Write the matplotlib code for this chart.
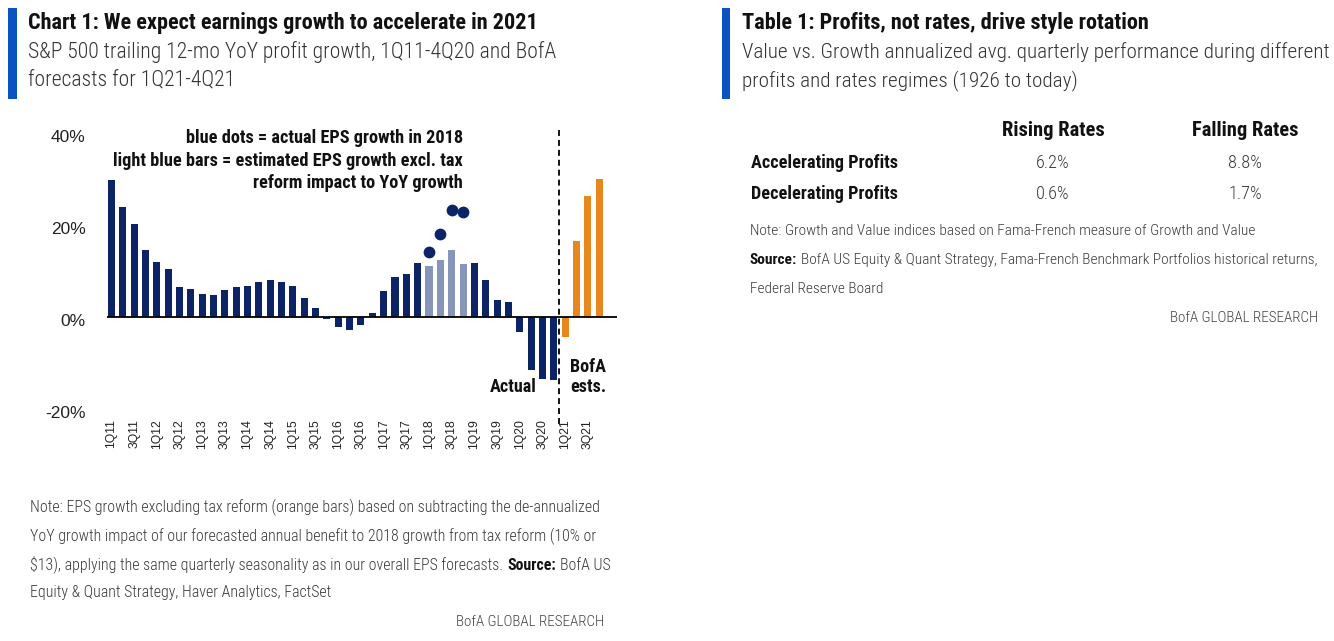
import matplotlib
matplotlib.use("Agg")
import matplotlib.pyplot as plt
import numpy as np
from matplotlib.patches import Rectangle
from matplotlib.transforms import ScaledTranslation

W, H = 1334, 641

# --- data ---
quarters = ["1Q11", "2Q11", "3Q11", "4Q11", "1Q12", "2Q12", "3Q12", "4Q12",
            "1Q13", "2Q13", "3Q13", "4Q13", "1Q14", "2Q14", "3Q14", "4Q14",
            "1Q15", "2Q15", "3Q15", "4Q15", "1Q16", "2Q16", "3Q16", "4Q16",
            "1Q17", "2Q17", "3Q17", "4Q17", "1Q18", "2Q18", "3Q18", "4Q18",
            "1Q19", "2Q19", "3Q19", "4Q19", "1Q20", "2Q20", "3Q20", "4Q20",
            "1Q21", "2Q21", "3Q21", "4Q21"]
# actual trailing 12m EPS growth, 1Q11-4Q20 (2018 = ex tax reform estimate)
actual_growth = [29.8, 23.8, 20.3, 14.5, 12.0, 10.5, 6.4, 6.0,
                 4.9, 4.7, 5.9, 6.4, 6.6, 7.5, 8.1, 7.6,
                 6.6, 4.1, 1.9, -0.4, -2.3, -2.8, -1.7, 0.7,
                 5.5, 8.6, 9.3, 11.6, 11.1, 12.3, 14.5, 11.5,
                 11.8, 8.1, 3.7, 3.1, -3.4, -11.7, -13.5, -13.7]
ex_tax_quarters = ["1Q18", "2Q18", "3Q18", "4Q18"]
eps_2018_actual = [14.1, 18.0, 23.2, 22.8]
forecast_quarters = ["1Q21", "2Q21", "3Q21", "4Q21"]
forecast_growth = [-4.4, 16.5, 26.2, 30.1]

table_cols = ["Rising Rates", "Falling Rates"]
table_rows = ["Accelerating Profits", "Decelerating Profits"]
table_vals = [["6.2%", "8.8%"], ["0.6%", "1.7%"]]

NAVY = "#0c2466"
LIGHT = "#8796b8"
ORANGE = "#e8871e"
ACCENT = "#0b53c1"

NARROW = ["Roboto Condensed", "Lato", "DejaVu Sans"]
ARIAL = ["Liberation Sans", "DejaVu Sans"]

fig = plt.figure(figsize=(W / 100, H / 100), dpi=100)
rend = fig.canvas.get_renderer()


def put(x, y, s, **kw):
    kw.setdefault("family", NARROW)
    kw.setdefault("va", "center")
    return fig.text(x / W, 1 - y / H, s, **kw)


def fit(s, target, size=14, **kw):
    # font size that makes s about target pixels wide
    kw.setdefault("family", NARROW)
    t = fig.text(0, 0, s, fontsize=size, **kw)
    w = t.get_window_extent(rend).width
    t.remove()
    return size * target / w


sub_l1 = "S&P 500 trailing 12-mo YoY profit growth, 1Q11-4Q20 and BofA"
sub_r1 = ("Value vs. Growth annualized avg. quarterly performance during "
          "different")
src_r = ("BofA US Equity & Quant Strategy, Fama-French Benchmark "
         "Portfolios historical returns,")

# ---------- sizes fitted to the reference widths ----------
fs_title = fit("Chart 1: We expect earnings growth to accelerate in 2021", 512,
               weight="bold")
fs_sub = fit(sub_l1, 529, weight="light")
fs_sub_r = fit(sub_r1, 588, weight="light")
fs_note = fit("Note: EPS growth excluding tax reform (orange bars) based on "
              "subtracting the de-annualized", 568, weight="light")
fs_note_r = fit("Source: " + src_r, 566, weight="light")
fs_ann = fit("blue dots = actual EPS growth in 2018", 279, weight="bold")
fs_act = fit("Actual", 47, weight="bold")
fs_head = fit("Rising Rates", 103, weight="bold")
fs_row = fit("Accelerating Profits", 148, weight="bold")
fs_small = fit("BofA GLOBAL RESEARCH", 150, weight="light")

# ---------- accent bars ----------
fig.add_artist(Rectangle((8 / W, 1 - 99 / H), 9 / W, 91 / H,
                         transform=fig.transFigure, color=ACCENT, lw=0))
fig.add_artist(Rectangle((722 / W, 1 - 99 / H), 8 / W, 91 / H,
                         transform=fig.transFigure, color=ACCENT, lw=0))

# ---------- left panel: chart ----------
put(28, 23, "Chart 1: We expect earnings growth to accelerate in 2021",
    fontsize=fs_title, weight="bold", color="#111111")
put(28, 52, sub_l1, fontsize=fs_sub, weight="light", color="#333333")
put(28, 81, "forecasts for 1Q21-4Q21", fontsize=fs_sub, weight="light",
    color="#333333")

ax = fig.add_axes([106.7 / W, 1 - 408.5 / H, 510 / W, 275.4 / H])
x_all = np.arange(len(quarters))
x_act = x_all[:len(actual_growth)]
act_colors = [LIGHT if q in ex_tax_quarters else NAVY
              for q in quarters[:len(actual_growth)]]
ax.bar(x_act, actual_growth, width=0.62, color=act_colors)
x_fc = [quarters.index(q) for q in forecast_quarters]
ax.bar(x_fc, forecast_growth, width=0.62, color=ORANGE)
x_dot = [quarters.index(q) for q in ex_tax_quarters]
ax.scatter(x_dot, eps_2018_actual, s=72, color=NAVY, zorder=3, lw=0)

ax.axhline(0, color="black", lw=1.3, zorder=2)
split = len(actual_growth) - 0.5
ax.plot([split, split], [40.7, -23.5], color="black", lw=1.3,
        dashes=(3.3, 2.2), clip_on=False)

ax.set_xlim(-0.42, 44.55)
ax.set_ylim(-20, 40)
for sp in ax.spines.values():
    sp.set_visible(False)
ax.set_yticks([-20, 0, 20, 40])
ax.set_yticklabels(["-20%", "0%", "20%", "40%"], family=ARIAL,
                   fontsize=12.5, color="#222222")
ax.set_xticks(x_all[::2])
ax.set_xticklabels(quarters[::2], rotation=90, family=ARIAL, fontsize=8.7,
                   color="#222222")
ax.tick_params(axis="y", length=0, pad=15)
ax.tick_params(axis="x", length=0, pad=8)
for lbl in ax.get_yticklabels():
    lbl.set_transform(lbl.get_transform() +
                      ScaledTranslation(0, -3 / 100, fig.dpi_scale_trans))

ann = dict(fontsize=fs_ann, weight="bold", color="#111111", ha="right")
put(463, 138, "blue dots = actual EPS growth in 2018", **ann)
put(463, 160.5, "light blue bars = estimated EPS growth excl. tax", **ann)
put(463, 182.5, "reform impact to YoY growth", **ann)
lab = dict(fontsize=fs_act, weight="bold", color="#111111")
put(537, 386.5, "Actual", ha="right", **lab)
put(570, 366.5, "BofA", **lab)
put(570, 386.5, "ests.", **lab)

note_kw = dict(fontsize=fs_note, weight="light", color="#3a3a3a")
bold_kw = dict(fontsize=fs_note, weight="bold", color="#111111")
put(30, 507, "Note: EPS growth excluding tax reform (orange bars) based on "
    "subtracting the de-annualized", **note_kw)
put(30, 536, "YoY growth impact of our forecasted annual benefit to 2018 "
    "growth from tax reform (10% or", **note_kw)
t1 = put(30, 565, "\\$13), applying the same quarterly seasonality as in our "
         "overall EPS forecasts.", **note_kw)
put(30, 593, "Equity & Quant Strategy, Haver Analytics, FactSet", **note_kw)
put(604, 622, "BofA GLOBAL RESEARCH", ha="right", fontsize=fs_small,
    weight="light", color="#444444")

# ---------- right panel: table ----------
put(742, 23, "Table 1: Profits, not rates, drive style rotation",
    fontsize=fs_title, weight="bold", color="#111111")
put(742, 52, sub_r1, fontsize=fs_sub_r, weight="light", color="#333333")
put(742, 81, "profits and rates regimes (1926 to today)", fontsize=fs_sub_r,
    weight="light", color="#333333")

col_x = [1053, 1245]
for cx, c in zip(col_x, table_cols):
    put(cx, 131, c, fontsize=fs_head, weight="bold", color="#111111",
        ha="center")
for ry, r, vals in zip([163, 194], table_rows, table_vals):
    put(751, ry, r, fontsize=fs_row, weight="bold", color="#111111")
    for cx, v in zip(col_x, vals):
        put(cx, ry, v, fontsize=fs_row, weight="light", color="#3a3a3a",
            ha="center")

note_r = dict(note_kw, fontsize=fs_note_r)
bold_r = dict(bold_kw, fontsize=fs_note_r)
put(750, 231, "Note: Growth and Value indices based on Fama-French measure of "
    "Growth and Value", **note_r)
t2 = put(750, 260, "Source:", **bold_r)
put(750, 289, "Federal Reserve Board", **note_r)
put(1318, 318, "BofA GLOBAL RESEARCH", ha="right", fontsize=fs_small,
    weight="light", color="#444444")

# mixed bold / regular pieces
bb = t1.get_window_extent(rend)
s1 = put(bb.x1 + 4, 565, "Source:", **bold_kw)
bb = s1.get_window_extent(rend)
put(bb.x1 + 4, 565, "BofA US", **note_kw)
bb = t2.get_window_extent(rend)
put(bb.x1 + 4, 260, src_r, **note_r)

fig.savefig("out.png", dpi=100, facecolor="white")
